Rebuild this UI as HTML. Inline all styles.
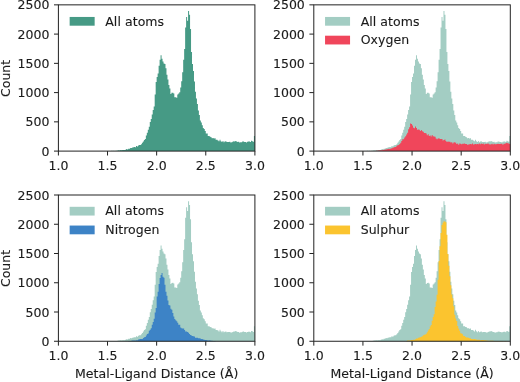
<!DOCTYPE html>
<html lang="en"><head><meta charset="utf-8"><title>Metal-Ligand Distance histograms</title>
<style>html,body{margin:0;padding:0;background:#fff}svg{display:block}</style></head>
<body>
<svg width="520" height="382" viewBox="0 0 520 382" font-family="'DejaVu Sans', 'Liberation Sans', sans-serif" font-size="12.5" fill="#1a1a1a" stroke="#1a1a1a" stroke-width="0.12">
<rect width="520" height="382" fill="#fff" stroke="none"/>
<path d="M58.40,151.10V151.10H59.38V151.10H60.37V151.10H61.35V151.10H62.33V151.10H63.31V151.10H64.30V151.10H65.28V151.10H66.26V151.10H67.24V151.10H68.23V151.10H69.21V151.10H70.19V151.10H71.17V151.10H72.16V151.10H73.14V151.10H74.12V151.10H75.10V151.10H76.08V151.10H77.07V151.10H78.05V151.10H79.03V151.10H80.02V151.10H81.00V151.10H81.98V151.10H82.96V151.10H83.95V151.10H84.93V151.10H85.91V151.10H86.89V151.10H87.88V151.10H88.86V151.10H89.84V151.10H90.82V151.10H91.80V151.10H92.79V151.10H93.77V151.10H94.75V151.10H95.73V151.10H96.72V151.10H97.70V151.10H98.68V151.10H99.67V151.10H100.65V151.10H101.63V151.09H102.61V151.08H103.59V151.08H104.58V151.05H105.56V151.10H106.54V151.04H107.53V150.98H108.51V150.97H109.49V150.95H110.47V150.89H111.45V150.81H112.44V150.93H113.42V150.74H114.40V150.91H115.39V150.76H116.37V150.84H117.35V150.50H118.33V150.37H119.32V150.44H120.30V150.09H121.28V150.31H122.26V150.10H123.25V150.00H124.23V150.10H125.21V149.64H126.19V149.08H127.17V149.39H128.16V148.72H129.14V148.69H130.12V147.96H131.10V147.98H132.09V147.59H133.07V147.27H134.05V147.05H135.03V147.21H136.02V146.03H137.00V146.58H137.98V145.60H138.97V145.00H139.95V145.05H140.93V144.22H141.91V142.76H142.89V141.38H143.88V139.88H144.86V138.98H145.84V135.56H146.82V132.73H147.81V129.67H148.79V126.81H149.77V122.05H150.75V118.89H151.74V114.62H152.72V110.02H153.70V106.45H154.69V94.61H155.67V81.96H156.65V76.94H157.63V73.49H158.61V65.82H159.60V59.78H160.58V55.37H161.56V58.70H162.54V61.47H163.53V63.39H164.51V64.10H165.49V68.37H166.47V74.68H167.46V79.47H168.44V84.91H169.42V88.39H170.41V93.89H171.39V92.85H172.37V92.71H173.35V93.47H174.33V97.29H175.32V97.37H176.30V97.76H177.28V94.40H178.26V93.43H179.25V92.19H180.23V87.57H181.21V81.16H182.19V72.19H183.18V59.79H184.16V49.00H185.14V27.50H186.12V17.00H187.11V20.80H188.09V11.10H189.07V14.80H190.06V29.00H191.04V52.00H192.02V64.00H193.00V71.05H193.98V81.53H194.97V91.63H195.95V98.38H196.93V104.07H197.91V110.59H198.90V114.89H199.88V120.47H200.86V122.43H201.84V125.16H202.83V128.04H203.81V129.10H204.79V131.07H205.78V133.41H206.76V133.46H207.74V136.02H208.72V136.03H209.71V136.78H210.69V137.17H211.67V138.13H212.65V138.11H213.63V138.51H214.62V138.35H215.60V139.74H216.58V139.80H217.56V140.45H218.55V141.26H219.53V139.65H220.51V141.16H221.50V142.03H222.48V140.97H223.46V142.18H224.44V141.53H225.43V141.32H226.41V141.99H227.39V141.89H228.37V141.94H229.35V141.76H230.34V142.42H231.32V142.25H232.30V141.76H233.28V141.24H234.27V141.42H235.25V140.93H236.23V141.39H237.22V141.93H238.20V141.75H239.18V142.60H240.16V142.13H241.15V142.15H242.13V141.58H243.11V141.41H244.09V141.95H245.07V141.96H246.06V142.39H247.04V141.76H248.02V141.59H249.00V141.50H249.99V142.05H250.97V140.82H251.95V141.17H252.94V141.74H253.92V136.12H254.90V151.10Z" fill="#469a85" stroke="none"/>
<rect x="58.40" y="4.85" width="196.50" height="146.25" fill="none" stroke="#222" stroke-width="1"/>
<text x="58.40" y="169.50" text-anchor="middle">1.0</text>
<text x="107.53" y="169.50" text-anchor="middle">1.5</text>
<text x="156.65" y="169.50" text-anchor="middle">2.0</text>
<text x="205.78" y="169.50" text-anchor="middle">2.5</text>
<text x="254.90" y="169.50" text-anchor="middle">3.0</text>
<text x="49.40" y="155.70" text-anchor="end">0</text>
<text x="49.40" y="126.45" text-anchor="end">500</text>
<text x="49.40" y="97.20" text-anchor="end">1000</text>
<text x="49.40" y="67.95" text-anchor="end">1500</text>
<text x="49.40" y="38.70" text-anchor="end">2000</text>
<text x="49.40" y="9.45" text-anchor="end">2500</text>
<path d="M58.40,151.10v4.4M107.53,151.10v4.4M156.65,151.10v4.4M205.78,151.10v4.4M254.90,151.10v4.4M58.40,151.10h-4.4M58.40,121.85h-4.4M58.40,92.60h-4.4M58.40,63.35h-4.4M58.40,34.10h-4.4M58.40,4.85h-4.4" stroke="#222" stroke-width="1" fill="none"/>
<rect x="69.65" y="16.95" width="25" height="8.75" fill="#469a85" stroke="none"/>
<text x="105.25" y="25.55" letter-spacing="0.06">All atoms</text>
<text transform="translate(9.60,78.38) rotate(-90)" text-anchor="middle">Count</text>
<path d="M313.80,151.10V151.10H314.78V151.10H315.77V151.10H316.75V151.10H317.73V151.10H318.71V151.10H319.70V151.10H320.68V151.10H321.66V151.10H322.64V151.10H323.63V151.10H324.61V151.10H325.59V151.10H326.57V151.10H327.56V151.10H328.54V151.10H329.52V151.10H330.50V151.10H331.49V151.10H332.47V151.10H333.45V151.10H334.43V151.10H335.42V151.10H336.40V151.10H337.38V151.10H338.36V151.10H339.35V151.10H340.33V151.10H341.31V151.10H342.29V151.10H343.28V151.10H344.26V151.10H345.24V151.10H346.22V151.10H347.21V151.10H348.19V151.10H349.17V151.10H350.15V151.10H351.14V151.10H352.12V151.10H353.10V151.10H354.08V151.10H355.06V151.10H356.05V151.10H357.03V151.09H358.01V151.08H359.00V151.08H359.98V151.05H360.96V151.10H361.94V151.04H362.93V150.98H363.91V150.97H364.89V150.95H365.87V150.89H366.86V150.81H367.84V150.93H368.82V150.74H369.80V150.91H370.79V150.76H371.77V150.84H372.75V150.50H373.73V150.37H374.72V150.44H375.70V150.09H376.68V150.31H377.66V150.10H378.65V150.00H379.63V150.10H380.61V149.64H381.59V149.08H382.58V149.39H383.56V148.72H384.54V148.69H385.52V147.96H386.51V147.98H387.49V147.59H388.47V147.27H389.45V147.05H390.44V147.21H391.42V146.03H392.40V146.58H393.38V145.60H394.37V145.00H395.35V145.05H396.33V144.22H397.31V142.76H398.30V141.38H399.28V139.88H400.26V138.98H401.24V135.56H402.23V132.73H403.21V129.67H404.19V126.81H405.17V122.05H406.16V118.89H407.14V114.62H408.12V110.02H409.10V106.45H410.09V94.61H411.07V81.96H412.05V76.94H413.03V73.49H414.02V65.82H415.00V59.78H415.98V55.37H416.96V58.70H417.95V61.47H418.93V63.39H419.91V64.10H420.89V68.37H421.88V74.68H422.86V79.47H423.84V84.91H424.82V88.39H425.81V93.89H426.79V92.85H427.77V92.71H428.75V93.47H429.74V97.29H430.72V97.37H431.70V97.76H432.68V94.40H433.67V93.43H434.65V92.19H435.63V87.57H436.61V81.16H437.60V72.19H438.58V59.79H439.56V49.00H440.54V27.50H441.53V17.00H442.51V20.80H443.49V11.10H444.47V14.80H445.46V29.00H446.44V52.00H447.42V64.00H448.40V71.05H449.39V81.53H450.37V91.63H451.35V98.38H452.33V104.07H453.31V110.59H454.30V114.89H455.28V120.47H456.26V122.43H457.25V125.16H458.23V128.04H459.21V129.10H460.19V131.07H461.18V133.41H462.16V133.46H463.14V136.02H464.12V136.03H465.11V136.78H466.09V137.17H467.07V138.13H468.05V138.11H469.04V138.51H470.02V138.35H471.00V139.74H471.98V139.80H472.97V140.45H473.95V141.26H474.93V139.65H475.91V141.16H476.90V142.03H477.88V140.97H478.86V142.18H479.84V141.53H480.83V141.32H481.81V141.99H482.79V141.89H483.77V141.94H484.76V141.76H485.74V142.42H486.72V142.25H487.70V141.76H488.69V141.24H489.67V141.42H490.65V140.93H491.63V141.39H492.62V141.93H493.60V141.75H494.58V142.60H495.56V142.13H496.55V142.15H497.53V141.58H498.51V141.41H499.49V141.95H500.48V141.96H501.46V142.39H502.44V141.76H503.42V141.59H504.41V141.50H505.39V142.05H506.37V140.82H507.35V141.17H508.34V141.74H509.32V136.12H510.30V151.10Z" fill="#a3cdc3" stroke="none"/>
<path d="M313.80,151.10V151.10H314.78V151.10H315.77V151.10H316.75V151.10H317.73V151.10H318.71V151.10H319.70V151.10H320.68V151.10H321.66V151.10H322.64V151.10H323.63V151.10H324.61V151.10H325.59V151.10H326.57V151.10H327.56V151.10H328.54V151.10H329.52V151.10H330.50V151.10H331.49V151.10H332.47V151.10H333.45V151.10H334.43V151.10H335.42V151.10H336.40V151.10H337.38V151.10H338.36V151.10H339.35V151.10H340.33V151.10H341.31V151.10H342.29V151.10H343.28V151.10H344.26V151.10H345.24V151.10H346.22V151.10H347.21V151.10H348.19V151.10H349.17V151.10H350.15V151.10H351.14V151.10H352.12V151.10H353.10V151.10H354.08V151.10H355.06V151.10H356.05V151.10H357.03V151.10H358.01V151.10H359.00V151.10H359.98V151.10H360.96V151.10H361.94V151.10H362.93V151.10H363.91V151.10H364.89V151.10H365.87V151.08H366.86V151.10H367.84V151.07H368.82V151.08H369.80V151.07H370.79V150.94H371.77V151.00H372.75V151.02H373.73V150.95H374.72V150.98H375.70V150.78H376.68V150.68H377.66V150.41H378.65V150.62H379.63V150.22H380.61V150.17H381.59V150.23H382.58V149.76H383.56V149.94H384.54V149.39H385.52V149.44H386.51V149.20H387.49V149.08H388.47V148.67H389.45V149.06H390.44V148.38H391.42V148.32H392.40V147.82H393.38V147.53H394.37V146.96H395.35V147.02H396.33V145.82H397.31V145.13H398.30V144.99H399.28V143.94H400.26V142.81H401.24V140.92H402.23V139.14H403.21V139.21H404.19V137.43H405.17V136.21H406.16V134.38H407.14V132.79H408.12V129.22H409.10V127.35H410.09V123.58H411.07V124.02H412.05V125.47H413.03V127.63H414.02V128.19H415.00V126.55H415.98V127.91H416.96V129.76H417.95V129.50H418.93V129.71H419.91V130.88H420.89V129.89H421.88V131.28H422.86V131.64H423.84V132.95H424.82V132.93H425.81V133.49H426.79V135.26H427.77V134.21H428.75V135.92H429.74V135.38H430.72V136.60H431.70V135.02H432.68V136.36H433.67V136.46H434.65V136.83H435.63V138.41H436.61V139.25H437.60V138.53H438.58V138.21H439.56V138.92H440.54V138.88H441.53V139.12H442.51V140.61H443.49V140.05H444.47V139.56H445.46V141.04H446.44V141.98H447.42V141.44H448.40V141.82H449.39V141.71H450.37V142.56H451.35V142.37H452.33V143.55H453.31V142.46H454.30V142.37H455.28V142.69H456.26V144.03H457.25V143.48H458.23V144.84H459.21V143.59H460.19V143.77H461.18V144.19H462.16V143.71H463.14V143.84H464.12V143.57H465.11V143.94H466.09V143.94H467.07V144.83H468.05V144.57H469.04V144.36H470.02V144.08H471.00V144.18H471.98V143.59H472.97V144.48H473.95V144.23H474.93V144.02H475.91V144.19H476.90V143.90H477.88V144.29H478.86V143.51H479.84V144.17H480.83V143.60H481.81V144.03H482.79V143.42H483.77V144.53H484.76V143.77H485.74V144.12H486.72V143.85H487.70V143.46H488.69V144.36H489.67V144.41H490.65V144.27H491.63V143.77H492.62V144.59H493.60V143.80H494.58V144.33H495.56V144.26H496.55V143.94H497.53V143.63H498.51V144.01H499.49V143.94H500.48V143.75H501.46V143.83H502.44V144.76H503.42V143.86H504.41V143.64H505.39V143.23H506.37V142.84H507.35V143.37H508.34V143.59H509.32V143.99H510.30V151.10Z" fill="#f0465b" stroke="none"/>
<rect x="313.80" y="4.85" width="196.50" height="146.25" fill="none" stroke="#222" stroke-width="1"/>
<text x="313.80" y="169.50" text-anchor="middle">1.0</text>
<text x="362.93" y="169.50" text-anchor="middle">1.5</text>
<text x="412.05" y="169.50" text-anchor="middle">2.0</text>
<text x="461.18" y="169.50" text-anchor="middle">2.5</text>
<text x="510.30" y="169.50" text-anchor="middle">3.0</text>
<text x="304.80" y="155.70" text-anchor="end">0</text>
<text x="304.80" y="126.45" text-anchor="end">500</text>
<text x="304.80" y="97.20" text-anchor="end">1000</text>
<text x="304.80" y="67.95" text-anchor="end">1500</text>
<text x="304.80" y="38.70" text-anchor="end">2000</text>
<text x="304.80" y="9.45" text-anchor="end">2500</text>
<path d="M313.80,151.10v4.4M362.93,151.10v4.4M412.05,151.10v4.4M461.18,151.10v4.4M510.30,151.10v4.4M313.80,151.10h-4.4M313.80,121.85h-4.4M313.80,92.60h-4.4M313.80,63.35h-4.4M313.80,34.10h-4.4M313.80,4.85h-4.4" stroke="#222" stroke-width="1" fill="none"/>
<rect x="325.05" y="16.95" width="25" height="8.75" fill="#a3cdc3" stroke="none"/>
<text x="360.65" y="25.55" letter-spacing="0.06">All atoms</text>
<rect x="325.05" y="35.70" width="25" height="8.75" fill="#f0465b" stroke="none"/>
<text x="360.65" y="44.30" letter-spacing="0.06">Oxygen</text>
<path d="M58.40,341.25V341.25H59.38V341.25H60.37V341.25H61.35V341.25H62.33V341.25H63.31V341.25H64.30V341.25H65.28V341.25H66.26V341.25H67.24V341.25H68.23V341.25H69.21V341.25H70.19V341.25H71.17V341.25H72.16V341.25H73.14V341.25H74.12V341.25H75.10V341.25H76.08V341.25H77.07V341.25H78.05V341.25H79.03V341.25H80.02V341.25H81.00V341.25H81.98V341.25H82.96V341.25H83.95V341.25H84.93V341.25H85.91V341.25H86.89V341.25H87.88V341.25H88.86V341.25H89.84V341.25H90.82V341.25H91.80V341.25H92.79V341.25H93.77V341.25H94.75V341.25H95.73V341.25H96.72V341.25H97.70V341.25H98.68V341.25H99.67V341.25H100.65V341.25H101.63V341.24H102.61V341.23H103.59V341.23H104.58V341.20H105.56V341.25H106.54V341.19H107.53V341.13H108.51V341.12H109.49V341.10H110.47V341.04H111.45V340.96H112.44V341.08H113.42V340.89H114.40V341.06H115.39V340.91H116.37V340.99H117.35V340.65H118.33V340.52H119.32V340.59H120.30V340.24H121.28V340.46H122.26V340.25H123.25V340.15H124.23V340.25H125.21V339.79H126.19V339.23H127.17V339.54H128.16V338.87H129.14V338.84H130.12V338.11H131.10V338.13H132.09V337.74H133.07V337.42H134.05V337.20H135.03V337.36H136.02V336.18H137.00V336.73H137.98V335.75H138.97V335.15H139.95V335.20H140.93V334.37H141.91V332.91H142.89V331.53H143.88V330.03H144.86V329.13H145.84V325.71H146.82V322.88H147.81V319.82H148.79V316.96H149.77V312.20H150.75V309.04H151.74V304.77H152.72V300.17H153.70V296.60H154.69V284.76H155.67V272.11H156.65V267.09H157.63V263.64H158.61V255.97H159.60V249.93H160.58V245.52H161.56V248.85H162.54V251.62H163.53V253.54H164.51V254.25H165.49V258.52H166.47V264.83H167.46V269.62H168.44V275.06H169.42V278.54H170.41V284.04H171.39V283.00H172.37V282.86H173.35V283.62H174.33V287.44H175.32V287.52H176.30V287.91H177.28V284.55H178.26V283.58H179.25V282.34H180.23V277.72H181.21V271.31H182.19V262.34H183.18V249.94H184.16V239.15H185.14V217.65H186.12V207.15H187.11V210.95H188.09V201.25H189.07V204.95H190.06V219.15H191.04V242.15H192.02V254.15H193.00V261.20H193.98V271.68H194.97V281.78H195.95V288.53H196.93V294.22H197.91V300.74H198.90V305.04H199.88V310.62H200.86V312.58H201.84V315.31H202.83V318.19H203.81V319.25H204.79V321.22H205.78V323.56H206.76V323.61H207.74V326.17H208.72V326.18H209.71V326.93H210.69V327.32H211.67V328.28H212.65V328.26H213.63V328.66H214.62V328.50H215.60V329.89H216.58V329.95H217.56V330.60H218.55V331.41H219.53V329.80H220.51V331.31H221.50V332.18H222.48V331.12H223.46V332.33H224.44V331.68H225.43V331.47H226.41V332.14H227.39V332.04H228.37V332.09H229.35V331.91H230.34V332.57H231.32V332.40H232.30V331.91H233.28V331.39H234.27V331.57H235.25V331.08H236.23V331.54H237.22V332.08H238.20V331.90H239.18V332.75H240.16V332.28H241.15V332.30H242.13V331.73H243.11V331.56H244.09V332.10H245.07V332.11H246.06V332.54H247.04V331.91H248.02V331.74H249.00V331.65H249.99V332.20H250.97V330.97H251.95V331.32H252.94V331.89H253.92V326.27H254.90V341.25Z" fill="#a3cdc3" stroke="none"/>
<path d="M58.40,341.25V341.25H59.38V341.25H60.37V341.25H61.35V341.25H62.33V341.25H63.31V341.25H64.30V341.25H65.28V341.25H66.26V341.25H67.24V341.25H68.23V341.25H69.21V341.25H70.19V341.25H71.17V341.25H72.16V341.25H73.14V341.25H74.12V341.25H75.10V341.25H76.08V341.25H77.07V341.25H78.05V341.25H79.03V341.25H80.02V341.25H81.00V341.25H81.98V341.25H82.96V341.25H83.95V341.25H84.93V341.25H85.91V341.25H86.89V341.25H87.88V341.25H88.86V341.25H89.84V341.25H90.82V341.25H91.80V341.25H92.79V341.25H93.77V341.25H94.75V341.25H95.73V341.25H96.72V341.25H97.70V341.25H98.68V341.25H99.67V341.25H100.65V341.25H101.63V341.25H102.61V341.25H103.59V341.25H104.58V341.25H105.56V341.25H106.54V341.25H107.53V341.25H108.51V341.25H109.49V341.25H110.47V341.25H111.45V341.25H112.44V341.25H113.42V341.25H114.40V341.25H115.39V341.25H116.37V341.25H117.35V341.25H118.33V341.25H119.32V341.25H120.30V341.25H121.28V341.25H122.26V341.25H123.25V341.25H124.23V341.25H125.21V341.23H126.19V341.17H127.17V341.16H128.16V341.12H129.14V341.08H130.12V340.99H131.10V340.75H132.09V340.59H133.07V340.46H134.05V340.42H135.03V340.46H136.02V340.14H137.00V340.15H137.98V339.55H138.97V339.30H139.95V338.96H140.93V338.90H141.91V338.96H142.89V337.98H143.88V337.21H144.86V337.06H145.84V335.60H146.82V334.07H147.81V333.47H148.79V330.73H149.77V329.84H150.75V328.28H151.74V324.65H152.72V322.00H153.70V318.81H154.69V312.40H155.67V307.96H156.65V296.43H157.63V291.87H158.61V283.99H159.60V278.11H160.58V275.10H161.56V273.11H162.54V276.71H163.53V277.87H164.51V284.86H165.49V291.71H166.47V295.72H167.46V300.48H168.44V304.88H169.42V305.62H170.41V308.65H171.39V309.84H172.37V312.90H173.35V316.46H174.33V319.09H175.32V320.18H176.30V321.32H177.28V322.80H178.26V324.63H179.25V324.86H180.23V327.58H181.21V328.24H182.19V328.46H183.18V328.39H184.16V330.09H185.14V331.45H186.12V331.40H187.11V332.06H188.09V332.75H189.07V334.10H190.06V335.04H191.04V335.50H192.02V335.97H193.00V336.16H193.98V336.60H194.97V337.71H195.95V337.69H196.93V337.86H197.91V338.20H198.90V338.31H199.88V338.62H200.86V338.97H201.84V339.05H202.83V339.53H203.81V339.84H204.79V340.06H205.78V340.10H206.76V340.23H207.74V340.48H208.72V340.25H209.71V340.44H210.69V340.64H211.67V340.81H212.65V340.99H213.63V341.03H214.62V340.98H215.60V341.25H216.58V341.20H217.56V341.18H218.55V341.20H219.53V341.21H220.51V341.18H221.50V341.24H222.48V341.19H223.46V341.17H224.44V341.24H225.43V341.24H226.41V341.21H227.39V341.19H228.37V341.18H229.35V341.20H230.34V341.24H231.32V341.25H232.30V341.22H233.28V341.21H234.27V341.25H235.25V341.22H236.23V341.22H237.22V341.21H238.20V341.25H239.18V341.22H240.16V341.25H241.15V341.24H242.13V341.24H243.11V341.21H244.09V341.18H245.07V341.23H246.06V341.23H247.04V341.23H248.02V341.25H249.00V341.23H249.99V341.25H250.97V341.23H251.95V341.24H252.94V341.25H253.92V341.25H254.90V341.25Z" fill="#3d83c6" stroke="none"/>
<rect x="58.40" y="195.00" width="196.50" height="146.25" fill="none" stroke="#222" stroke-width="1"/>
<text x="58.40" y="359.65" text-anchor="middle">1.0</text>
<text x="107.53" y="359.65" text-anchor="middle">1.5</text>
<text x="156.65" y="359.65" text-anchor="middle">2.0</text>
<text x="205.78" y="359.65" text-anchor="middle">2.5</text>
<text x="254.90" y="359.65" text-anchor="middle">3.0</text>
<text x="49.40" y="345.85" text-anchor="end">0</text>
<text x="49.40" y="316.60" text-anchor="end">500</text>
<text x="49.40" y="287.35" text-anchor="end">1000</text>
<text x="49.40" y="258.10" text-anchor="end">1500</text>
<text x="49.40" y="228.85" text-anchor="end">2000</text>
<text x="49.40" y="199.60" text-anchor="end">2500</text>
<path d="M58.40,341.25v4.4M107.53,341.25v4.4M156.65,341.25v4.4M205.78,341.25v4.4M254.90,341.25v4.4M58.40,341.25h-4.4M58.40,312.00h-4.4M58.40,282.75h-4.4M58.40,253.50h-4.4M58.40,224.25h-4.4M58.40,195.00h-4.4" stroke="#222" stroke-width="1" fill="none"/>
<rect x="69.65" y="206.80" width="25" height="8.75" fill="#a3cdc3" stroke="none"/>
<text x="105.25" y="215.40" letter-spacing="0.06">All atoms</text>
<rect x="69.65" y="225.55" width="25" height="8.75" fill="#3d83c6" stroke="none"/>
<text x="105.25" y="234.15" letter-spacing="0.06">Nitrogen</text>
<text x="156.65" y="378.45" text-anchor="middle" textLength="163.3" lengthAdjust="spacing">Metal-Ligand Distance (Å)</text>
<text transform="translate(9.60,268.52) rotate(-90)" text-anchor="middle">Count</text>
<path d="M313.80,341.25V341.25H314.78V341.25H315.77V341.25H316.75V341.25H317.73V341.25H318.71V341.25H319.70V341.25H320.68V341.25H321.66V341.25H322.64V341.25H323.63V341.25H324.61V341.25H325.59V341.25H326.57V341.25H327.56V341.25H328.54V341.25H329.52V341.25H330.50V341.25H331.49V341.25H332.47V341.25H333.45V341.25H334.43V341.25H335.42V341.25H336.40V341.25H337.38V341.25H338.36V341.25H339.35V341.25H340.33V341.25H341.31V341.25H342.29V341.25H343.28V341.25H344.26V341.25H345.24V341.25H346.22V341.25H347.21V341.25H348.19V341.25H349.17V341.25H350.15V341.25H351.14V341.25H352.12V341.25H353.10V341.25H354.08V341.25H355.06V341.25H356.05V341.25H357.03V341.24H358.01V341.23H359.00V341.23H359.98V341.20H360.96V341.25H361.94V341.19H362.93V341.13H363.91V341.12H364.89V341.10H365.87V341.04H366.86V340.96H367.84V341.08H368.82V340.89H369.80V341.06H370.79V340.91H371.77V340.99H372.75V340.65H373.73V340.52H374.72V340.59H375.70V340.24H376.68V340.46H377.66V340.25H378.65V340.15H379.63V340.25H380.61V339.79H381.59V339.23H382.58V339.54H383.56V338.87H384.54V338.84H385.52V338.11H386.51V338.13H387.49V337.74H388.47V337.42H389.45V337.20H390.44V337.36H391.42V336.18H392.40V336.73H393.38V335.75H394.37V335.15H395.35V335.20H396.33V334.37H397.31V332.91H398.30V331.53H399.28V330.03H400.26V329.13H401.24V325.71H402.23V322.88H403.21V319.82H404.19V316.96H405.17V312.20H406.16V309.04H407.14V304.77H408.12V300.17H409.10V296.60H410.09V284.76H411.07V272.11H412.05V267.09H413.03V263.64H414.02V255.97H415.00V249.93H415.98V245.52H416.96V248.85H417.95V251.62H418.93V253.54H419.91V254.25H420.89V258.52H421.88V264.83H422.86V269.62H423.84V275.06H424.82V278.54H425.81V284.04H426.79V283.00H427.77V282.86H428.75V283.62H429.74V287.44H430.72V287.52H431.70V287.91H432.68V284.55H433.67V283.58H434.65V282.34H435.63V277.72H436.61V271.31H437.60V262.34H438.58V249.94H439.56V239.15H440.54V217.65H441.53V207.15H442.51V210.95H443.49V201.25H444.47V204.95H445.46V219.15H446.44V242.15H447.42V254.15H448.40V261.20H449.39V271.68H450.37V281.78H451.35V288.53H452.33V294.22H453.31V300.74H454.30V305.04H455.28V310.62H456.26V312.58H457.25V315.31H458.23V318.19H459.21V319.25H460.19V321.22H461.18V323.56H462.16V323.61H463.14V326.17H464.12V326.18H465.11V326.93H466.09V327.32H467.07V328.28H468.05V328.26H469.04V328.66H470.02V328.50H471.00V329.89H471.98V329.95H472.97V330.60H473.95V331.41H474.93V329.80H475.91V331.31H476.90V332.18H477.88V331.12H478.86V332.33H479.84V331.68H480.83V331.47H481.81V332.14H482.79V332.04H483.77V332.09H484.76V331.91H485.74V332.57H486.72V332.40H487.70V331.91H488.69V331.39H489.67V331.57H490.65V331.08H491.63V331.54H492.62V332.08H493.60V331.90H494.58V332.75H495.56V332.28H496.55V332.30H497.53V331.73H498.51V331.56H499.49V332.10H500.48V332.11H501.46V332.54H502.44V331.91H503.42V331.74H504.41V331.65H505.39V332.20H506.37V330.97H507.35V331.32H508.34V331.89H509.32V326.27H510.30V341.25Z" fill="#a3cdc3" stroke="none"/>
<path d="M313.80,341.25V341.25H314.78V341.25H315.77V341.25H316.75V341.25H317.73V341.25H318.71V341.25H319.70V341.25H320.68V341.25H321.66V341.25H322.64V341.25H323.63V341.25H324.61V341.25H325.59V341.25H326.57V341.25H327.56V341.25H328.54V341.25H329.52V341.25H330.50V341.25H331.49V341.25H332.47V341.25H333.45V341.25H334.43V341.25H335.42V341.25H336.40V341.25H337.38V341.25H338.36V341.25H339.35V341.25H340.33V341.25H341.31V341.25H342.29V341.25H343.28V341.25H344.26V341.25H345.24V341.25H346.22V341.25H347.21V341.25H348.19V341.25H349.17V341.25H350.15V341.25H351.14V341.25H352.12V341.25H353.10V341.25H354.08V341.25H355.06V341.25H356.05V341.25H357.03V341.25H358.01V341.25H359.00V341.25H359.98V341.25H360.96V341.25H361.94V341.25H362.93V341.25H363.91V341.25H364.89V341.25H365.87V341.25H366.86V341.25H367.84V341.25H368.82V341.25H369.80V341.25H370.79V341.25H371.77V341.25H372.75V341.25H373.73V341.25H374.72V341.25H375.70V341.25H376.68V341.25H377.66V341.25H378.65V341.25H379.63V341.25H380.61V341.25H381.59V341.25H382.58V341.25H383.56V341.25H384.54V341.25H385.52V341.25H386.51V341.25H387.49V341.25H388.47V341.25H389.45V341.25H390.44V341.25H391.42V341.25H392.40V341.25H393.38V341.25H394.37V341.25H395.35V341.25H396.33V341.24H397.31V341.24H398.30V341.21H399.28V341.23H400.26V341.22H401.24V341.25H402.23V341.20H403.21V341.18H404.19V341.22H405.17V341.19H406.16V341.02H407.14V340.55H408.12V340.62H409.10V340.46H410.09V340.32H411.07V339.91H412.05V339.94H413.03V339.82H414.02V339.78H415.00V339.23H415.98V338.59H416.96V338.46H417.95V337.81H418.93V337.60H419.91V337.21H420.89V336.79H421.88V336.21H422.86V335.23H423.84V334.78H424.82V334.55H425.81V333.65H426.79V332.30H427.77V330.61H428.75V328.96H429.74V326.38H430.72V325.06H431.70V320.83H432.68V316.90H433.67V314.25H434.65V307.01H435.63V301.56H436.61V294.68H437.60V279.68H438.58V261.02H439.56V246.27H440.54V232.90H441.53V225.01H442.51V222.64H443.49V221.29H444.47V221.58H445.46V222.19H446.44V234.64H447.42V253.93H448.40V265.80H449.39V276.18H450.37V285.15H451.35V294.47H452.33V298.32H453.31V306.31H454.30V314.68H455.28V318.48H456.26V320.92H457.25V325.99H458.23V328.48H459.21V330.70H460.19V333.33H461.18V333.41H462.16V334.17H463.14V336.02H464.12V336.03H465.11V337.04H466.09V337.44H467.07V337.45H468.05V337.83H469.04V338.35H470.02V338.20H471.00V338.97H471.98V339.04H472.97V339.29H473.95V339.12H474.93V339.28H475.91V339.40H476.90V339.86H477.88V339.69H478.86V339.73H479.84V340.17H480.83V340.12H481.81V339.98H482.79V340.07H483.77V340.23H484.76V340.28H485.74V340.41H486.72V340.52H487.70V340.64H488.69V340.81H489.67V340.83H490.65V340.86H491.63V340.63H492.62V340.84H493.60V340.88H494.58V340.92H495.56V340.93H496.55V340.96H497.53V340.92H498.51V340.98H499.49V340.94H500.48V341.07H501.46V341.02H502.44V341.00H503.42V341.15H504.41V341.09H505.39V341.10H506.37V341.15H507.35V341.18H508.34V341.25H509.32V341.16H510.30V341.25Z" fill="#fbc42f" stroke="none"/>
<rect x="313.80" y="195.00" width="196.50" height="146.25" fill="none" stroke="#222" stroke-width="1"/>
<text x="313.80" y="359.65" text-anchor="middle">1.0</text>
<text x="362.93" y="359.65" text-anchor="middle">1.5</text>
<text x="412.05" y="359.65" text-anchor="middle">2.0</text>
<text x="461.18" y="359.65" text-anchor="middle">2.5</text>
<text x="510.30" y="359.65" text-anchor="middle">3.0</text>
<text x="304.80" y="345.85" text-anchor="end">0</text>
<text x="304.80" y="316.60" text-anchor="end">500</text>
<text x="304.80" y="287.35" text-anchor="end">1000</text>
<text x="304.80" y="258.10" text-anchor="end">1500</text>
<text x="304.80" y="228.85" text-anchor="end">2000</text>
<text x="304.80" y="199.60" text-anchor="end">2500</text>
<path d="M313.80,341.25v4.4M362.93,341.25v4.4M412.05,341.25v4.4M461.18,341.25v4.4M510.30,341.25v4.4M313.80,341.25h-4.4M313.80,312.00h-4.4M313.80,282.75h-4.4M313.80,253.50h-4.4M313.80,224.25h-4.4M313.80,195.00h-4.4" stroke="#222" stroke-width="1" fill="none"/>
<rect x="325.05" y="206.80" width="25" height="8.75" fill="#a3cdc3" stroke="none"/>
<text x="360.65" y="215.40" letter-spacing="0.06">All atoms</text>
<rect x="325.05" y="225.55" width="25" height="8.75" fill="#fbc42f" stroke="none"/>
<text x="360.65" y="234.15" letter-spacing="0.06">Sulphur</text>
<text x="412.05" y="378.45" text-anchor="middle" textLength="163.3" lengthAdjust="spacing">Metal-Ligand Distance (Å)</text>
</svg>
</body></html>
